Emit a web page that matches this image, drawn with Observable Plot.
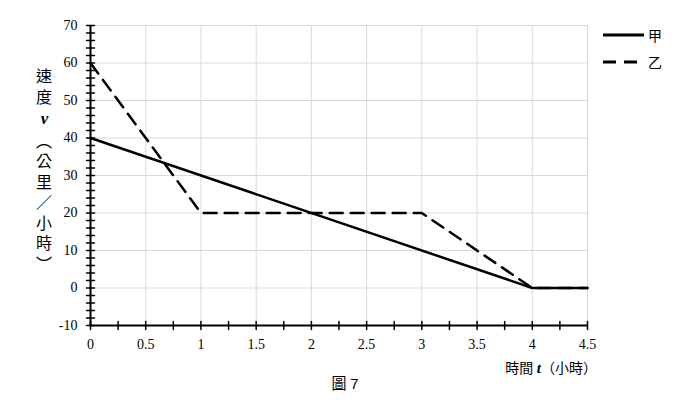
<!DOCTYPE html>
<html>
<head>
<meta charset="utf-8">
<script src="https://cdn.jsdelivr.net/npm/d3@7"></script>
<script src="https://cdn.jsdelivr.net/npm/@observablehq/plot@0.6"></script>
<style>
  body { margin: 0; background: #fff; }
  #wrap { position: relative; width: 696px; height: 409px; background: #fff; overflow: hidden; }
  .abs { position: absolute; white-space: nowrap; color: #000; }
  .cjk { font-family: "Noto Sans CJK TC", "Noto Sans CJK SC", sans-serif; }
  #ylab { writing-mode: vertical-rl; text-orientation: upright; font-size: 16px; line-height: 20px; letter-spacing: 4.5px; }
  svg text { font-family: "Liberation Serif", "Times New Roman", serif; }
</style>
</head>
<body>
<div id="wrap"></div>
<script>
// ---- data ----
const timeJia = [0, 4, 4.5];
const speedJia = [40, 0, 0];
const timeYi = [0, 1, 3, 4, 4.5];
const speedYi = [60, 20, 20, 0, 0];
const seriesNames = ["甲", "乙"];
const xTicks = [0, 0.5, 1, 1.5, 2, 2.5, 3, 3.5, 4, 4.5];
const yTicks = [-10, 0, 10, 20, 30, 40, 50, 60, 70];
const xMinorTicks = d3.range(0, 4.5001, 0.25);
const yMinorTicks = d3.range(-10, 70.001, 2);

const jia = timeJia.map((t, i) => ({t, v: speedJia[i]}));
const yi = timeYi.map((t, i) => ({t, v: speedYi[i]}));

const tickShape = {draw(ctx, l) { ctx.moveTo(0, 0); ctx.lineTo(0, -l); }};
const serif = "Liberation Serif";

const chart = Plot.plot({
  width: 696,
  height: 409,
  marginLeft: 90,
  marginRight: 109,
  marginTop: 25,
  marginBottom: 84,
  style: {fontFamily: "Liberation Serif, serif", fontSize: "14px", color: "#000", background: "#fff"},
  x: {domain: [0, 4.5], axis: null},
  y: {domain: [-10, 70], axis: null},
  marks: [
    Plot.gridX(xTicks, {stroke: "#d9d9d9", strokeOpacity: 1, strokeWidth: 1}),
    Plot.gridY(yTicks, {stroke: "#d9d9d9", strokeOpacity: 1, strokeWidth: 1}),
    Plot.line(yi, {x: "t", y: "v", stroke: "#000", strokeWidth: 2.5, strokeDasharray: "13,8"}),
    Plot.line(jia, {x: "t", y: "v", stroke: "#000", strokeWidth: 2.5}),
    Plot.ruleX([0], {y1: -10, y2: 70, stroke: "#000", strokeWidth: 2}),
    Plot.ruleY([-10], {x1: 0, x2: 4.5, stroke: "#000", strokeWidth: 2}),
    Plot.vector(xMinorTicks, {x: d => d, y: -10, length: 8, rotate: 0, anchor: "middle", shape: tickShape, stroke: "#000", strokeWidth: 1.5}),
    Plot.vector(yMinorTicks, {x: 0, y: d => d, length: 8, rotate: 90, anchor: "middle", shape: tickShape, stroke: "#000", strokeWidth: 1.5}),
    Plot.text(xTicks, {x: d => d, y: -10, text: d => String(d), dy: 19, fill: "#000", fontFamily: serif, fontSize: 14}),
    Plot.text(yTicks, {x: 0, y: d => d, text: d => String(d), dx: -13, textAnchor: "end", fill: "#000", fontFamily: serif, fontSize: 14})
  ]
});

const wrap = document.getElementById("wrap");
wrap.appendChild(chart);

// y-axis label (vertical, one text)
const ylab = document.createElement("div");
ylab.id = "ylab";
ylab.className = "abs";
ylab.style.left = "34px"; ylab.style.top = "68px";
ylab.innerHTML = '<span class="cjk">速度</span><span style="font-family:\'Liberation Serif\',serif;font-style:italic;font-weight:bold;font-size:17px">v</span><span class="cjk">（公里／小時）</span>';
wrap.appendChild(ylab);

// x-axis label
const xlab = document.createElement("div");
xlab.className = "abs";
xlab.style.right = (696 - 597) + "px";
xlab.style.top = "357px";
xlab.style.fontSize = "14px";
xlab.style.lineHeight = "20px";
xlab.innerHTML = '<span class="cjk">時間</span> <span style="font-family:\'Liberation Serif\',serif;font-style:italic;font-weight:bold;font-size:15px">t</span><span class="cjk">（小時）</span>';
wrap.appendChild(xlab);

// caption
const cap = document.createElement("div");
cap.className = "abs";
cap.style.left = "0px"; cap.style.width = "690px"; cap.style.textAlign = "center";
cap.style.top = "373px"; cap.style.fontSize = "15px"; cap.style.lineHeight = "20px";
cap.innerHTML = '<span class="cjk">圖</span> <span style="font-family:\'Liberation Sans\',sans-serif">7</span>';
wrap.appendChild(cap);

// legend
const legendStyles = [{dash: null, y: 35}, {dash: "13,8", y: 62}];
seriesNames.forEach((name, i) => {
  const ls = legendStyles[i];
  const item = document.createElement("div");
  item.className = "abs";
  item.style.left = "603px"; item.style.top = (ls.y - 10) + "px";
  item.style.height = "20px";
  item.innerHTML = `<svg width="42" height="20" style="position:absolute;left:0;top:0"><line x1="0" x2="41" y1="10" y2="10" stroke="#000" stroke-width="3" ${ls.dash ? `stroke-dasharray="${ls.dash}"` : ""}/></svg><span class="cjk" style="position:absolute;left:45px;top:0;font-size:14px;line-height:20px">${name}</span>`;
  wrap.appendChild(item);
});
</script>
</body>
</html>
